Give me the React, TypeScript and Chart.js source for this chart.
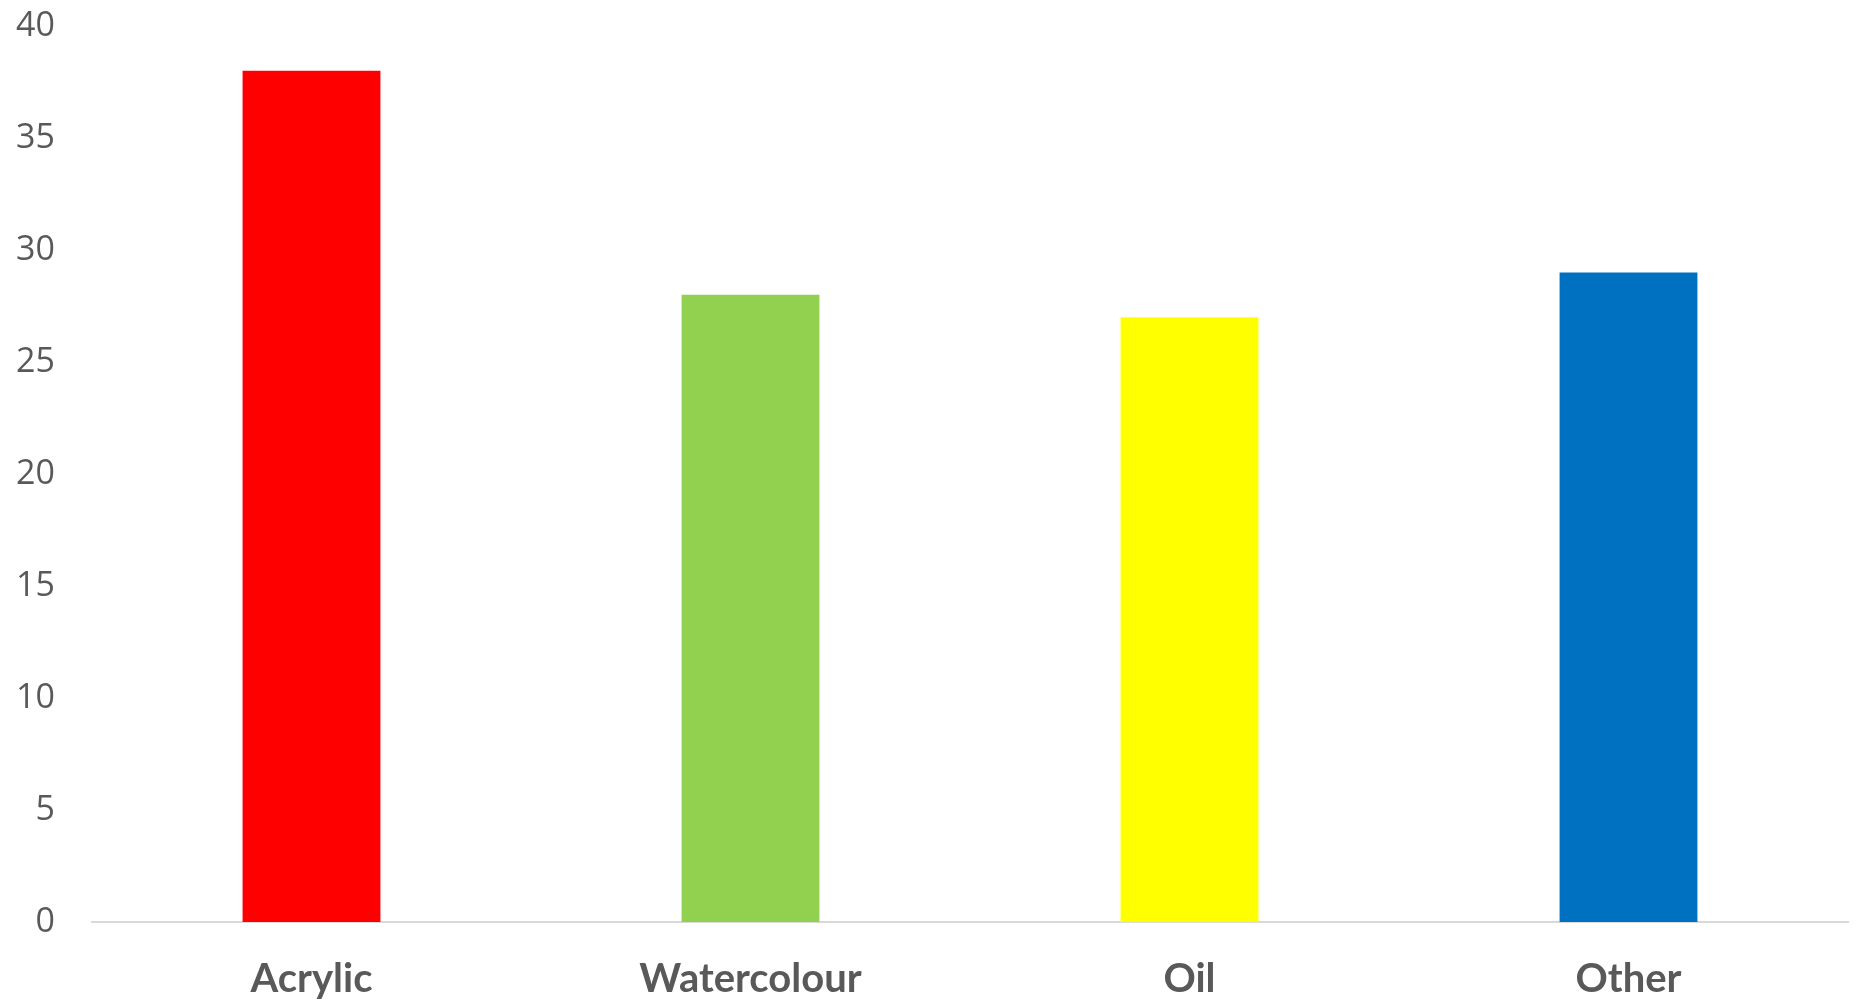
import React, { useEffect, useRef } from "react";
import { Chart, registerables } from "chart.js";

Chart.register(...registerables);

const categories = ["Acrylic", "Watercolour", "Oil", "Other"];
const values = [38, 28, 27, 29];
const barColors = ["#FF0000", "#92D050", "#FFFF00", "#0070C0"];
const yMin = 0;
const yMax = 40;
const yStep = 5;

export default function App() {
  const ref = useRef<HTMLCanvasElement | null>(null);
  useEffect(() => {
    if (!ref.current) return;
    const chart = new Chart(ref.current, {
      type: "bar",
      data: {
        labels: categories,
        datasets: [
          {
            data: values,
            backgroundColor: barColors,
            borderWidth: 0,
            categoryPercentage: 1,
            barPercentage: 0.314,
          },
        ],
      },
      options: {
        animation: false,
        responsive: false,
        maintainAspectRatio: false,
        layout: { padding: { top: 0, right: 10, left: 0, bottom: 0 } },
        plugins: { legend: { display: false }, tooltip: { enabled: false } },
        scales: {
          x: {
            grid: { display: false, drawTicks: false },
            border: { display: true, color: "#d9d9d9", width: 2 },
            ticks: {
              color: "#595959",
              padding: 33,
              font: { family: "Lato", size: 40, weight: "bold" },
            },
            afterFit: (s: any) => {
              s.height = 80;
            },
          },
          y: {
            min: yMin,
            max: yMax,
            grid: { display: false, drawTicks: false },
            border: { display: false },
            ticks: {
              stepSize: yStep,
              color: "#595959",
              padding: 37,
              font: { family: "Open Sans", size: 34 },
            },
            afterFit: (s: any) => {
              s.width = 92;
              s.paddingTop = 26;
              s.paddingBottom = 0;
            },
          },
        },
      },
    });
    return () => chart.destroy();
  }, []);
  return (
    <div style={{ position: "fixed", left: 0, top: 0, width: 1858, height: 1002, background: "#fff" }}>
      <canvas ref={ref} width={1858} height={1002} style={{ width: 1858, height: 1002 }} />
    </div>
  );
}
